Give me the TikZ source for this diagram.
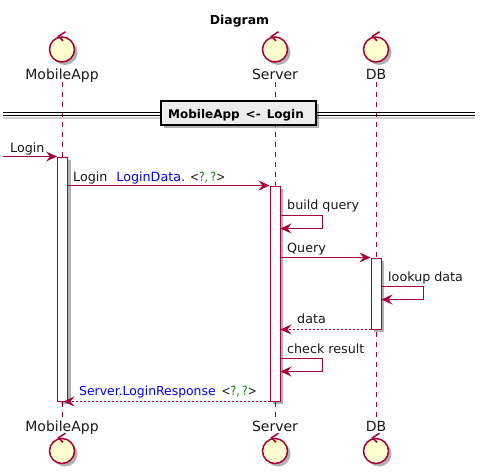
\documentclass[tikz,border=0pt]{standalone}
\usepackage{fontspec}
\setmainfont{DejaVu Sans}
\newfontfamily\narrowfont[FakeStretch=.84]{DejaVu Sans}
\usetikzlibrary{arrows.meta,backgrounds,shadows}
\definecolor{umlred}{HTML}{A80036}
\definecolor{umlfill}{HTML}{FEFECE}
\definecolor{typeblue}{HTML}{0000FF}
\definecolor{typegreen}{HTML}{008000}
\newcommand{\typeargs}{{\narrowfont\fontsize{12.7}{13}\selectfont\spaceskip=.2em <\textcolor{typegreen}{?, ?}>}}
\tikzset{
  msg/.style={umlred, line width=1pt, -{Stealth[length=11pt, width=10pt, inset=4pt]}},
  ret/.style={msg, dash pattern=on 2pt off 2pt},
  lifeline/.style={umlred, line width=1pt, dash pattern=on 5pt off 5pt},
  actbox/.style={draw=umlred, fill=white, line width=1pt, minimum width=10pt, inner sep=0pt, anchor=north,
    drop shadow={shadow xshift=3pt, shadow yshift=-3pt, fill=black, opacity=.3}},
  ctrl/.style={circle, draw=umlred, fill=umlfill, line width=1.5pt, minimum size=25pt, inner sep=0pt,
    drop shadow={shadow xshift=3pt, shadow yshift=-3pt, fill=black, opacity=.3}},
  partname/.style={font=\fontsize{14}{14}\selectfont, text=black!90, inner sep=0pt, anchor=base},
  txt/.style={font=\fontsize{12.7}{13}\selectfont, text=black!90, inner sep=0pt, anchor=base west},
}
\begin{document}
\begin{tikzpicture}[x=1pt, y=-1pt]
\useasboundingbox (0,0) rectangle (486,472);
\node[font=\bfseries\fontsize{12.4}{13}\selectfont, inner sep=0pt, anchor=base] (title) at (239.5,24) {Diagram};
% participants, top and bottom
\foreach \who/\x/\lbl in {app/62/MobileApp, srv/275/Server, db/376/DB}{
  \node[ctrl] (\who Top) at (\x,49.5) {};
  \node[ctrl] (\who Bot) at (\x,451) {};
  \node[partname] (\who Name) at (\x,79) {\lbl};
  \node[partname] (\who Foot) at (\x,431) {\lbl};
  \foreach \ci in {\who Top, \who Bot}
    \draw[umlred, line width=1.5pt] ([shift={(3.5,-4.5)}]\ci.north)--([shift={(-3.5,0)}]\ci.north)--([shift={(1,4.5)}]\ci.north);
}
% activations
\node[actbox, minimum height=244pt] (appBox) at (62.5,156.5) {};
\node[actbox, minimum height=215pt] (srvBox) at (275,185.5) {};
\node[actbox, minimum height=71pt] (dbBox) at (376,257.5) {};
\begin{scope}[on background layer]
\draw[lifeline] (appName.south |- 0,82) -- (appFoot.north |- 0,417);
\draw[lifeline] (srvName.south |- 0,82) -- (srvFoot.north |- 0,417);
\draw[lifeline] (dbName.south |- 0,82) -- (dbFoot.north |- 0,417);
\end{scope}
% divider
\coordinate (divL) at (3,112.2);
\coordinate (divR) at (475,112.2);
\draw[black!18, line width=1.5pt] ([yshift=-6pt]divL) -- ([yshift=-6pt]divR);
\draw[black, line width=1pt] (divL) -- (divR);
\draw[black, line width=1pt] ([yshift=-3.4pt]divL) -- ([yshift=-3.4pt]divR);
\node[draw=black, fill=black!7, line width=1.5pt, minimum width=155pt, minimum height=24pt, inner sep=0pt,
  drop shadow={shadow xshift=3pt, shadow yshift=-3pt, fill=black, opacity=.3}] (divBox) at (238.5,113) {};
\node[font=\bfseries\fontsize{12}{13}\selectfont, inner sep=0pt, anchor=base] (divTxt) at (236,118.6) {\spaceskip=6pt MobileApp <- Login};
% messages
\coordinate (loginIn) at (3,156.5);
\coordinate (buildA) at (srvBox.east |- 0,215.5);
\coordinate (buildB) at (322.5,215.5);
\coordinate (buildC) at (322.5,228.5);
\coordinate (buildD) at (srvBox.east |- 0,228.5);
\coordinate (lookA) at (dbBox.east |- 0,286.5);
\coordinate (lookB) at (423.5,286.5);
\coordinate (lookC) at (423.5,299.5);
\coordinate (lookD) at (dbBox.east |- 0,299.5);
\coordinate (checkA) at (srvBox.east |- 0,358.5);
\coordinate (checkB) at (322.5,358.5);
\coordinate (checkC) at (322.5,371.5);
\coordinate (checkD) at (srvBox.east |- 0,371.5);
\draw[msg] (loginIn) -- (appBox.north west);
\draw[msg] (appBox.east |- srvBox.north) -- (srvBox.north west);
\draw[msg] (buildA) -- (buildB) -- (buildC) -- (buildD);
\draw[msg] (srvBox.east |- dbBox.north) -- (dbBox.north west);
\draw[msg] (lookA) -- (lookB) -- (lookC) -- (lookD);
\draw[ret] (dbBox.south west) -- (srvBox.east |- dbBox.south);
\draw[msg] (checkA) -- (checkB) -- (checkC) -- (checkD);
\draw[ret] (srvBox.south west) -- ([xshift=1pt]appBox.south);
% message labels
\node[txt] (loginLbl) at (10,152) {Login};
\node[txt] (dataLbl) at (73,181) {\spaceskip=9pt Login \textcolor{typeblue}{LoginData.}\hspace{5pt}\typeargs};
\node[txt] (buildLbl) at (287,209.5) {build query};
\node[txt] (queryLbl) at (287,252.5) {Query};
\node[txt] (lookLbl) at (388,281.5) {lookup data};
\node[txt] (backLbl) at (297,323.5) {data};
\node[txt] (checkLbl) at (287,353.5) {check result};
\node[txt] (respLbl) at (79,395.5) {\textcolor{typeblue}{\fontsize{12.4}{13}\selectfont Server.LoginResponse}\hspace{6pt}\typeargs};
\end{tikzpicture}
\end{document}
